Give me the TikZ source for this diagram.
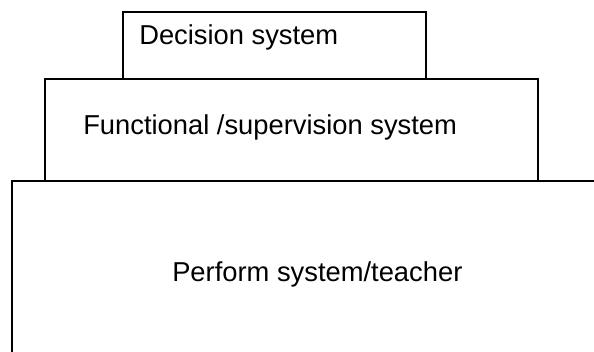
\documentclass[tikz,border=0pt]{standalone}
\usepackage{fontspec}
\setmainfont{Liberation Sans}
\begin{document}
\begin{tikzpicture}[x=0.75pt,y=-0.75pt,
  boxline/.style={draw=black,line width=1pt},
  lbl/.style={anchor=base west,inner sep=0pt,font=\fontsize{20.5}{24}\selectfont}]
\useasboundingbox (0,0) rectangle (594,352);
% boxes
\draw[boxline] (123,12) rectangle (426,79);
\draw[boxline] (45,79) rectangle (538,181);
\draw[boxline] (12,352) -- (12,181) -- (594,181);
% labels
\node[lbl] (dec) at (139,45) {Decision system};
\node[lbl] (fun) at (83,135) {Functional /supervision system};
\node[lbl] (per) at (172,282) {Perform system/teacher};
\end{tikzpicture}
\end{document}
